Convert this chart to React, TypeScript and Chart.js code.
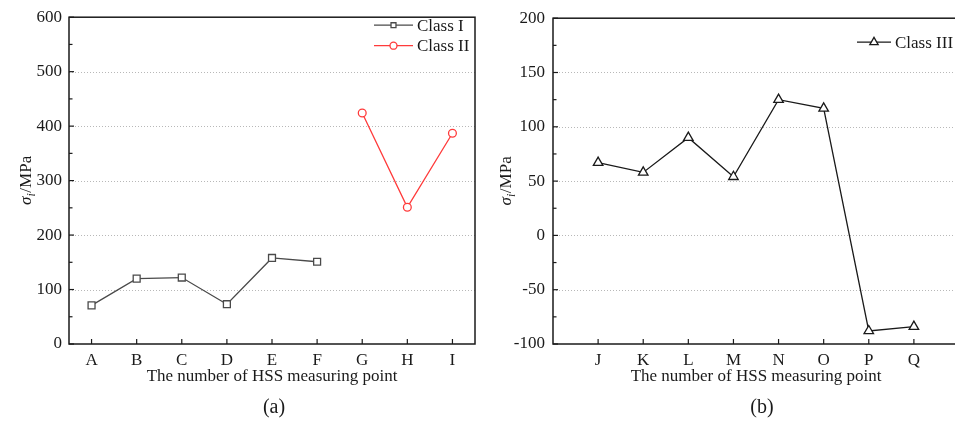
import React, { useEffect, useRef } from 'react';
import { Chart, registerables } from 'chart.js';

Chart.register(...registerables);

// Panel (a): measuring points A–I
const pointsA = ['A', 'B', 'C', 'D', 'E', 'F', 'G', 'H', 'I'];
const classI = [71, 120, 122, 73, 158, 151, null, null, null];
const classII = [null, null, null, null, null, null, 424, 251, 387];
const gridA = [100, 200, 300, 400, 500];

// Panel (b): measuring points J–Q
const pointsB = ['J', 'K', 'L', 'M', 'N', 'O', 'P', 'Q'];
const classIII = [67, 58, 90, 54, 125, 117, -88, -84];
const gridB = [-50, 0, 50, 100, 150];

const SERIF = '"Liberation Serif", "Times New Roman", serif';
const INK = '#1a1a1a';
const GREY = '#4a4a4a';
const RED = '#ff3b3b';

type LegendItem = { label: string; color: string; marker: string };

function drawMarker(ctx: CanvasRenderingContext2D, style: string, x: number, y: number, r: number) {
  ctx.beginPath();
  if (style === 'rect') {
    const h = r * Math.SQRT1_2;
    ctx.rect(x - h, y - h, 2 * h, 2 * h);
  } else if (style === 'circle') {
    ctx.arc(x, y, r, 0, Math.PI * 2);
  } else {
    ctx.moveTo(x, y - r);
    ctx.lineTo(x + r * Math.sin((2 * Math.PI) / 3), y + r / 2);
    ctx.lineTo(x - r * Math.sin((2 * Math.PI) / 3), y + r / 2);
    ctx.closePath();
  }
  ctx.fillStyle = '#fff';
  ctx.fill();
  ctx.stroke();
}

// Draws dotted grid, boxed frame with inward ticks, legend, y title and panel tag.
const panelFrame = {
  id: 'panelFrame',
  beforeDatasetsDraw(chart: any, _args: any, o: any) {
    const { ctx, chartArea: a, scales } = chart;
    ctx.save();
    ctx.strokeStyle = '#b8b8b8';
    ctx.lineWidth = 1;
    ctx.setLineDash([1, 2]);
    for (const v of o.grid as number[]) {
      const y = Math.round(scales.y.getPixelForValue(v)) + 0.5;
      ctx.beginPath();
      ctx.moveTo(a.left, y);
      ctx.lineTo(a.right, y);
      ctx.stroke();
    }
    ctx.restore();
  },
  afterDatasetsDraw(chart: any, _args: any, o: any) {
    const { ctx, chartArea: a, scales } = chart;
    const ys = scales.y;
    const xs = scales.x;
    ctx.save();
    ctx.strokeStyle = INK;
    ctx.lineWidth = 1.5;
    ctx.setLineDash([]);
    ctx.strokeRect(a.left, a.top, a.right - a.left, a.bottom - a.top);

    // y ticks, major and minor, pointing inward
    ctx.lineWidth = 1.2;
    for (let v = ys.min; v <= ys.max + 1e-6; v += o.minorStep) {
      const y = ys.getPixelForValue(v);
      const major = Math.abs(v % o.majorStep) < 1e-6;
      const len = major ? 5 : 3.5;
      ctx.beginPath();
      ctx.moveTo(a.left, y);
      ctx.lineTo(a.left + len, y);
      ctx.stroke();
    }
    // x ticks at each category
    xs.ticks.forEach((_t: any, i: number) => {
      const x = xs.getPixelForTick(i);
      if (x <= a.left + 1 || x >= a.right - 1) return;
      ctx.beginPath();
      ctx.moveTo(x, a.bottom);
      ctx.lineTo(x, a.bottom - 5);
      ctx.stroke();
    });

    // legend
    ctx.font = `17px ${SERIF}`;
    ctx.textBaseline = 'middle';
    ctx.textAlign = 'left';
    const len = o.legendLine;
    (o.legend as LegendItem[]).forEach((it, i) => {
      const y = a.top + o.legendTop + i * o.legendGap;
      const x0 = a.right - o.legendRight;
      ctx.strokeStyle = it.color;
      ctx.lineWidth = 1.3;
      ctx.beginPath();
      ctx.moveTo(x0, y);
      ctx.lineTo(x0 + len, y);
      ctx.stroke();
      drawMarker(ctx, it.marker, x0 + len / 2, y, it.marker === 'triangle' ? 4.8 : 3.5);
      ctx.fillStyle = INK;
      ctx.fillText(it.label, x0 + len + 4, y + 1);
    });

    // rotated y-axis title: σ_i/MPa
    ctx.save();
    ctx.translate(o.titleX, (a.top + a.bottom) / 2);
    ctx.rotate(-Math.PI / 2);
    ctx.fillStyle = INK;
    ctx.textBaseline = 'middle';
    const fMain = `italic 17px ${SERIF}`;
    const fSub = `italic 12px ${SERIF}`;
    const fUnit = `17px ${SERIF}`;
    ctx.font = fMain;
    const w1 = ctx.measureText('σ').width;
    ctx.font = fSub;
    const w2 = ctx.measureText('i').width;
    ctx.font = fUnit;
    const w3 = ctx.measureText('/MPa').width;
    let x = -(w1 + w2 + w3) / 2;
    ctx.font = fMain;
    ctx.fillText('σ', x, 0);
    x += w1;
    ctx.font = fSub;
    ctx.fillText('i', x, 5);
    x += w2 + 0.5;
    ctx.font = fUnit;
    ctx.fillText('/MPa', x, 0);
    ctx.restore();

    // panel tag
    ctx.font = `20px ${SERIF}`;
    ctx.textAlign = 'center';
    ctx.textBaseline = 'middle';
    ctx.fillStyle = INK;
    ctx.fillText(o.tag, (a.left + a.right) / 2 + o.tagShift, chart.height - 15);
    ctx.restore();
  },
};

const tickFont = { family: SERIF, size: 17 };

function baseOptions(yMin: number, yMax: number, yStep: number, yWidth: number, padRight: number) {
  return {
    responsive: false,
    animation: false as const,
    layout: { autoPadding: false, padding: { top: 17, right: padRight, bottom: 36, left: 0 } },
    plugins: { legend: { display: false }, tooltip: { enabled: false } },
    scales: {
      y: {
        min: yMin,
        max: yMax,
        grid: { display: false, drawTicks: false },
        border: { display: false },
        ticks: { stepSize: yStep, color: INK, font: tickFont, padding: 7 },
        afterFit: (s: any) => {
          s.width = yWidth;
        },
      },
    },
  };
}

const xTitle = {
  display: true,
  text: 'The number of HSS measuring point',
  color: INK,
  font: tickFont,
  padding: { top: 0, bottom: 0 },
};

const fitX = (s: any) => {
  s.height = 43;
  s.paddingLeft = 0;
  s.paddingRight = 0;
};

function PanelA() {
  const ref = useRef<HTMLCanvasElement>(null);
  useEffect(() => {
    const base: any = baseOptions(0, 600, 100, 69, 5);
    base.scales.x = {
      type: 'category',
      offset: true,
      grid: { display: false, drawTicks: false },
      border: { display: false },
      ticks: { color: INK, font: tickFont, padding: 6, autoSkip: false, maxRotation: 0 },
      title: xTitle,
      afterFit: fitX,
    };
    base.plugins.panelFrame = {
      grid: gridA,
      majorStep: 100,
      minorStep: 50,
      titleX: 27,
      tag: '(a)',
      tagShift: 2,
      legendTop: 8,
      legendGap: 20.5,
      legendRight: 101,
      legendLine: 39,
      legend: [
        { label: 'Class I', color: GREY, marker: 'rect' },
        { label: 'Class II', color: RED, marker: 'circle' },
      ],
    };
    const chart = new Chart(ref.current!, {
      type: 'line',
      data: {
        labels: pointsA,
        datasets: [
          {
            label: 'Class I',
            data: classI,
            borderColor: GREY,
            borderWidth: 1.3,
            pointStyle: 'rect',
            pointRadius: 4.9,
            pointBorderWidth: 1.3,
            pointBackgroundColor: '#fff',
            pointBorderColor: GREY,
          },
          {
            label: 'Class II',
            data: classII,
            borderColor: RED,
            borderWidth: 1.3,
            pointStyle: 'circle',
            pointRadius: 3.9,
            pointBorderWidth: 1.3,
            pointBackgroundColor: '#fff',
            pointBorderColor: RED,
          },
        ],
      },
      options: base,
      plugins: [panelFrame],
    });
    return () => chart.destroy();
  }, []);
  return <canvas ref={ref} width={480} height={423} style={{ position: 'absolute', left: 0, top: 0 }} />;
}

function PanelB() {
  const ref = useRef<HTMLCanvasElement>(null);
  useEffect(() => {
    const base: any = baseOptions(-100, 200, 50, 73, 1);
    base.scales.y.ticks.padding = 8;
    base.scales.x = {
      type: 'linear',
      min: 0,
      max: pointsB.length + 1,
      grid: { display: false, drawTicks: false },
      border: { display: false },
      ticks: {
        stepSize: 1,
        color: INK,
        font: tickFont,
        padding: 6,
        autoSkip: false,
        maxRotation: 0,
        callback: (v: number) => pointsB[v - 1] ?? '',
      },
      title: xTitle,
      afterFit: fitX,
    };
    base.plugins.panelFrame = {
      grid: gridB,
      majorStep: 50,
      minorStep: 25,
      titleX: 27,
      tag: '(b)',
      tagShift: 6,
      legendTop: 24,
      legendGap: 20,
      legendRight: 102,
      legendLine: 34,
      legend: [{ label: 'Class III', color: INK, marker: 'triangle' }],
    };
    const chart = new Chart(ref.current!, {
      type: 'line',
      data: {
        datasets: [
          {
            label: 'Class III',
            data: classIII.map((v, i) => ({ x: i + 1, y: v })),
            borderColor: INK,
            borderWidth: 1.3,
            pointStyle: 'triangle',
            pointRadius: 5.5,
            pointBorderWidth: 1.3,
            pointBackgroundColor: '#fff',
            pointBorderColor: INK,
          },
        ],
      },
      options: base,
      plugins: [panelFrame],
    });
    return () => chart.destroy();
  }, []);
  return <canvas ref={ref} width={480} height={423} style={{ position: 'absolute', left: 480, top: 0 }} />;
}

export default function App() {
  return (
    <div
      style={{
        position: 'absolute',
        left: 0,
        top: 0,
        width: 955,
        height: 423,
        overflow: 'hidden',
        background: '#fff',
      }}
    >
      <PanelA />
      <PanelB />
    </div>
  );
}
